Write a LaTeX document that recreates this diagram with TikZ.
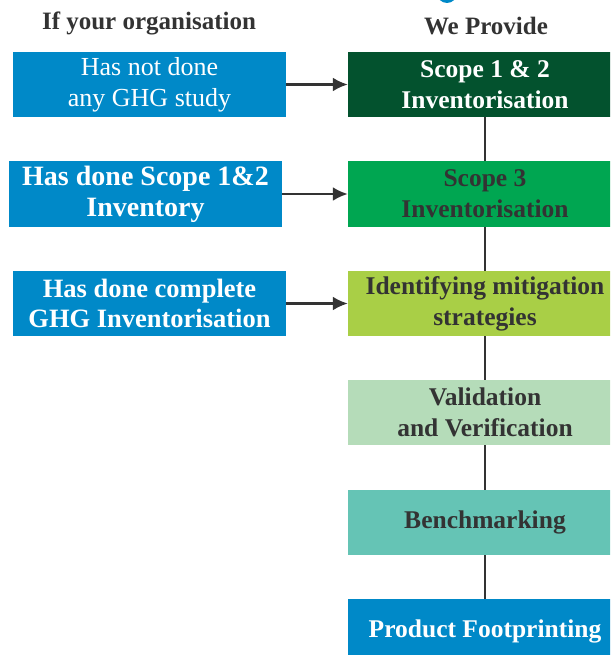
\documentclass[tikz,border=0pt]{standalone}
\usepackage{fontspec}
\setmainfont{Liberation Serif}
\usetikzlibrary{arrows.meta}
\definecolor{lblue}{HTML}{0089C8}
\definecolor{dgreen}{HTML}{03522E}
\definecolor{mgreen}{HTML}{00A651}
\definecolor{ygreen}{HTML}{A9CF46}
\definecolor{pgreen}{HTML}{B5DCB9}
\definecolor{teal1}{HTML}{65C4B5}
\definecolor{ink}{HTML}{333333}
\tikzset{
  box/.style={rectangle, inner sep=0pt, minimum height=65pt, align=center, font=\bfseries\fontsize{25.5}{31}\selectfont},
  lbox/.style={box, minimum width=273pt, fill=lblue, text=white},
  rbox/.style={box, minimum width=274pt},
  head/.style={font=\bfseries\fontsize{25}{28}\selectfont, text=ink},
  arr/.style={draw=ink, line width=2.5pt, -{Latex[length=15pt,width=14pt]}},
  link/.style={draw=ink, line width=2.5pt}
}
\begin{document}
\begin{tikzpicture}[x=1pt,y=-1pt]
\clip (0,0) rectangle (610,655);
\fill[white] (0,0) rectangle (610,655);
\fill[lblue] (447,-7) circle (10);
\node[head] (h1) at (149,23) {If your organisation};
\node[head] (h2) at (486,26) {We Provide};
\node[lbox, font=\fontsize{26}{31}\selectfont] (l1) at (149.5,84.5) {Has not done\\any GHG study};
\node[lbox, font=\bfseries\fontsize{28}{31}\selectfont] (l2) at (145.5,194) {Has done Scope 1\&2\\Inventory};
\node[lbox, font=\bfseries\fontsize{26.5}{30}\selectfont] (l3) at (149.5,303.5) {Has done complete\\GHG Inventorisation};
\node[rbox, fill=dgreen, text=white] (r1) at (485,84.5) {Scope 1 \& 2\\Inventorisation};
\node[rbox, fill=mgreen, text=ink] (r2) at (485,194) {Scope 3\\Inventorisation};
\node[rbox, fill=ygreen, text=ink] (r3) at (485,303.5) {Identifying mitigation\\strategies};
\node[rbox, fill=pgreen, text=ink] (r4) at (485,412.5) {Validation\\and Verification};
\node[rbox, fill=teal1, text=ink] (r5) at (485,522.5) {Benchmarking};
\node[rbox, fill=lblue, text=white] (r6) at (485,631.5) {Product Footprinting};
\draw[arr] (l1.east) -- (l1.east -| r1.west);
\draw[arr] (l2.east) -- (l2.east -| r2.west);
\draw[arr] (l3.east) -- (l3.east -| r3.west);
\draw[link] (r1.south) -- (r2.north);
\draw[link] (r2.south) -- (r3.north);
\draw[link] (r3.south) -- (r4.north);
\draw[link] (r4.south) -- (r5.north);
\draw[link] (r5.south) -- (r6.north);
\end{tikzpicture}
\end{document}
